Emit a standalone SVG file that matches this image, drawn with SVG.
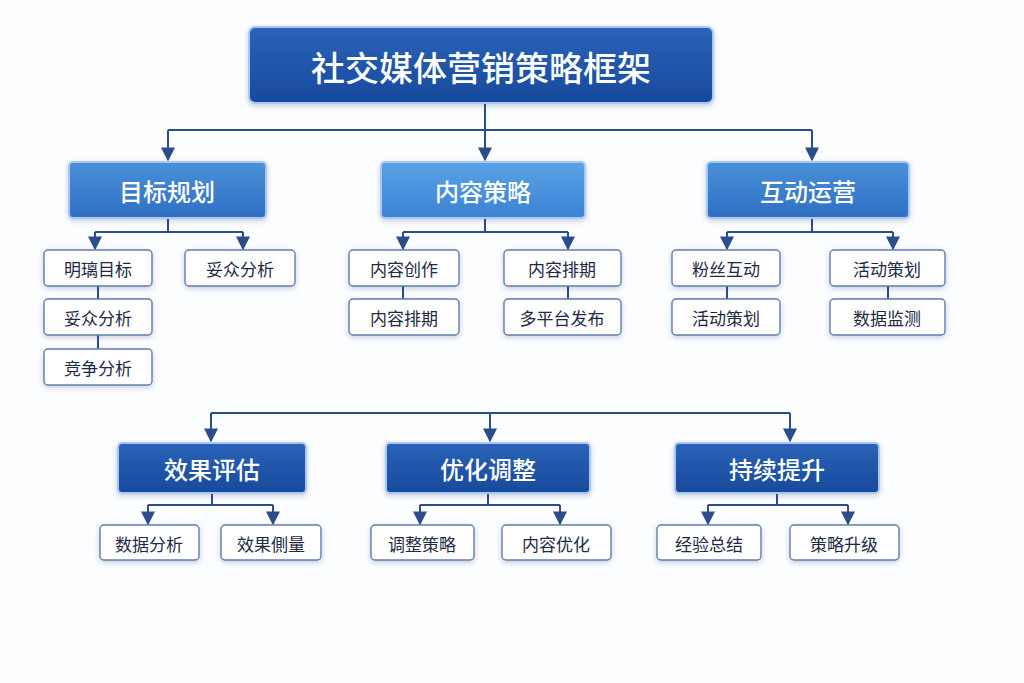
<svg xmlns="http://www.w3.org/2000/svg" width="1024" height="683" viewBox="0 0 1024 683">
<defs>
<linearGradient id="gDark" x1="0" y1="0" x2="0" y2="1"><stop offset="0" stop-color="#2b63b8"/><stop offset="1" stop-color="#174a9c"/></linearGradient>
<linearGradient id="gMid" x1="0" y1="0" x2="0" y2="1"><stop offset="0" stop-color="#4a90d9"/><stop offset="1" stop-color="#2f6fc4"/></linearGradient>
<linearGradient id="gLight" x1="0" y1="0" x2="0" y2="1"><stop offset="0" stop-color="#5aa3e6"/><stop offset="1" stop-color="#3a82d4"/></linearGradient>
<filter id="sh" x="-20%" y="-20%" width="140%" height="160%"><feDropShadow dx="0" dy="2" stdDeviation="2.5" flood-color="#1d3f7a" flood-opacity="0.25"/></filter>
<marker id="ar" viewBox="0 0 10 10" refX="9" refY="5" markerWidth="7" markerHeight="7" orient="auto"><path d="M0,0 L10,5 L0,10 z" fill="#2a4d8c"/></marker>
</defs>
<style>
.t{font-family:"Noto Sans CJK SC","Noto Sans",sans-serif;text-anchor:middle;dominant-baseline:central}
.hd{fill:#fff;font-size:24px;font-weight:500}
.lf{fill:#1e2a44;font-size:17px}
.leaf{fill:#fff;stroke:#5f7fae;stroke-width:1.4;filter:url(#sh)}
.big{stroke:#a9c8ef;stroke-width:2;filter:url(#sh)}
.ln{fill:none;stroke:#2a4d8c;stroke-width:2}
.la{fill:none;stroke:#2a4d8c;stroke-width:2;marker-end:url(#ar)}
</style>
<rect width="1024" height="683" fill="#fcfdff"/>
<g id="connectors">
<path class="ln" d="M485,103 V130 M168,130 H812"/>
<path class="la" d="M168,130 V160"/><path class="la" d="M485,130 V160"/><path class="la" d="M812,130 V160"/>
<path class="ln" d="M168,218 V232 M95,232 H243"/><path class="la" d="M95,232 V249"/><path class="la" d="M243,232 V249"/>
<path class="ln" d="M98,286 V299 M98,335 V349"/>
<path class="ln" d="M485,218 V232 M403,232 H568"/><path class="la" d="M403,232 V249"/><path class="la" d="M568,232 V249"/>
<path class="ln" d="M403,286 V299 M568,286 V299"/>
<path class="ln" d="M812,218 V232 M727,232 H893"/><path class="la" d="M727,232 V249"/><path class="la" d="M893,232 V249"/>
<path class="ln" d="M727,286 V299 M888,286 V299"/>
<path class="ln" d="M211,413 H790"/>
<path class="la" d="M211,413 V441"/><path class="la" d="M490,413 V441"/><path class="la" d="M790,413 V441"/>
<path class="ln" d="M212,493 V505 M148,505 H273"/><path class="la" d="M148,505 V524"/><path class="la" d="M273,505 V524"/>
<path class="ln" d="M488,493 V505 M420,505 H560"/><path class="la" d="M420,505 V524"/><path class="la" d="M560,505 V524"/>
<path class="ln" d="M777,493 V505 M708,505 H848"/><path class="la" d="M708,505 V524"/><path class="la" d="M848,505 V524"/>
</g>
<g id="title"><rect class="big" x="249" y="27" width="464" height="76" rx="6" fill="url(#gDark)"/><text class="t" x="481" y="66" fill="#fff" font-size="34" font-weight="500">社交媒体营销策略框架</text></g>
<g id="n1"><rect class="big" x="69" y="162" width="197" height="56" rx="4" fill="url(#gMid)"/><text class="t hd" x="167" y="190">目标规划</text></g>
<g id="n2"><rect class="big" x="381" y="162" width="204" height="56" rx="4" fill="url(#gLight)"/><text class="t hd" x="483" y="190">内容策略</text></g>
<g id="n3"><rect class="big" x="707" y="162" width="202" height="56" rx="4" fill="url(#gMid)"/><text class="t hd" x="808" y="190">互动运营</text></g>
<g id="l1"><rect class="leaf" x="44" y="250" width="108" height="36" rx="4"/><text class="t lf" x="98" y="268">明璃目标</text></g>
<g id="l2"><rect class="leaf" x="185" y="250" width="110" height="36" rx="4"/><text class="t lf" x="240" y="268">妥众分析</text></g>
<g id="l3"><rect class="leaf" x="44" y="299" width="108" height="36" rx="4"/><text class="t lf" x="98" y="317">妥众分析</text></g>
<g id="l4"><rect class="leaf" x="44" y="349" width="108" height="36" rx="4"/><text class="t lf" x="98" y="367">竞争分析</text></g>
<g id="l5"><rect class="leaf" x="349" y="250" width="110" height="36" rx="4"/><text class="t lf" x="404" y="268">内容创作</text></g>
<g id="l6"><rect class="leaf" x="504" y="250" width="117" height="36" rx="4"/><text class="t lf" x="562" y="268">内容排期</text></g>
<g id="l7"><rect class="leaf" x="349" y="299" width="110" height="36" rx="4"/><text class="t lf" x="404" y="317">内容排期</text></g>
<g id="l8"><rect class="leaf" x="504" y="299" width="117" height="36" rx="4"/><text class="t lf" x="562" y="317">多平台发布</text></g>
<g id="l9"><rect class="leaf" x="672" y="250" width="108" height="36" rx="4"/><text class="t lf" x="726" y="268">粉丝互动</text></g>
<g id="l10"><rect class="leaf" x="830" y="250" width="115" height="36" rx="4"/><text class="t lf" x="887" y="268">活动策划</text></g>
<g id="l11"><rect class="leaf" x="672" y="299" width="108" height="36" rx="4"/><text class="t lf" x="726" y="317">活动策划</text></g>
<g id="l12"><rect class="leaf" x="830" y="299" width="115" height="36" rx="4"/><text class="t lf" x="887" y="317">数据监测</text></g>
<g id="n4"><rect class="big" x="118" y="443" width="188" height="50" rx="4" fill="url(#gDark)"/><text class="t hd" x="212" y="468">效果评估</text></g>
<g id="n5"><rect class="big" x="386" y="443" width="204" height="50" rx="4" fill="url(#gDark)"/><text class="t hd" x="488" y="468">优化调整</text></g>
<g id="n6"><rect class="big" x="675" y="443" width="204" height="50" rx="4" fill="url(#gDark)"/><text class="t hd" x="777" y="468">持续提升</text></g>
<g id="l13"><rect class="leaf" x="100" y="525" width="99" height="35" rx="4"/><text class="t lf" x="149" y="543">数据分析</text></g>
<g id="l14"><rect class="leaf" x="221" y="525" width="100" height="35" rx="4"/><text class="t lf" x="271" y="543">效果側量</text></g>
<g id="l15"><rect class="leaf" x="371" y="525" width="103" height="35" rx="4"/><text class="t lf" x="422" y="543">调整策略</text></g>
<g id="l16"><rect class="leaf" x="502" y="525" width="109" height="35" rx="4"/><text class="t lf" x="556" y="543">内容优化</text></g>
<g id="l17"><rect class="leaf" x="657" y="525" width="104" height="35" rx="4"/><text class="t lf" x="709" y="543">经验总结</text></g>
<g id="l18"><rect class="leaf" x="790" y="525" width="109" height="35" rx="4"/><text class="t lf" x="844" y="543">策略升级</text></g>
</svg>
